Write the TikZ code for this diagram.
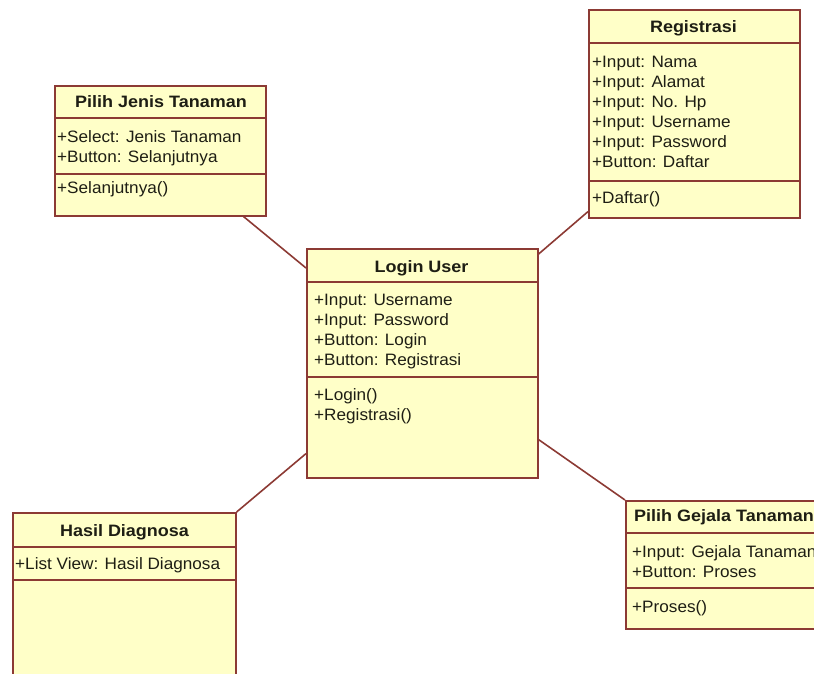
\documentclass[tikz,border=0pt]{standalone}
\usepackage{fontspec}
\setmainfont{Liberation Sans}
\newfontfamily\umlmember{Liberation Sans}[FakeStretch=1.04]
\newfontfamily\umltitle{Liberation Sans}[FakeStretch=1.09]
\definecolor{umlfill}{RGB}{255,255,200}
\definecolor{umlline}{RGB}{140,58,52}
\definecolor{umltext}{RGB}{30,30,20}
\begin{document}
\begin{tikzpicture}[x=1pt,y=-1pt,
  classbox/.style={draw=umlline, line width=1.6pt, fill=umlfill, rectangle, inner sep=0pt, anchor=north west},
  divider/.style={draw=umlline, line width=1.6pt},
  assoc/.style={draw=umlline, line width=1.6pt},
  classtitle/.style={font=\umltitle\fontsize{16.5}{20}\selectfont\bfseries, text=umltext, anchor=base, inner sep=0pt},
  member/.style={font=\umlmember\fontsize{16.5}{20}\selectfont, text=umltext, anchor=base west, inner sep=0pt}]
\useasboundingbox (0,0) rectangle (814,673);
\begin{scope}
\clip (0,0) rectangle (814,673);

% class boxes
\node[classbox, minimum width=211pt, minimum height=130pt] (pjt) at (54,85) {};
\node[classbox, minimum width=211pt, minimum height=208pt] (reg) at (588,9) {};
\node[classbox, minimum width=231pt, minimum height=229pt] (login) at (306,248) {};
\node[classbox, minimum width=223pt, minimum height=200pt] (hasil) at (12,512) {};
\node[classbox, minimum width=215pt, minimum height=128pt] (gejala) at (625,500) {};

% compartment dividers
\draw[divider] ([yshift=-33pt]pjt.north west) -- ([yshift=-33pt]pjt.north east);
\draw[divider] ([yshift=-89pt]pjt.north west) -- ([yshift=-89pt]pjt.north east);
\draw[divider] ([yshift=-34pt]reg.north west) -- ([yshift=-34pt]reg.north east);
\draw[divider] ([yshift=-172pt]reg.north west) -- ([yshift=-172pt]reg.north east);
\draw[divider] ([yshift=-34pt]login.north west) -- ([yshift=-34pt]login.north east);
\draw[divider] ([yshift=-129pt]login.north west) -- ([yshift=-129pt]login.north east);
\draw[divider] ([yshift=-35pt]hasil.north west) -- ([yshift=-35pt]hasil.north east);
\draw[divider] ([yshift=-68pt]hasil.north west) -- ([yshift=-68pt]hasil.north east);
\draw[divider] ([yshift=-33pt]gejala.north west) -- ([yshift=-33pt]gejala.north east);
\draw[divider] ([yshift=-88pt]gejala.north west) -- ([yshift=-88pt]gejala.north east);

% Pilih Jenis Tanaman
\node[classtitle] (pjt-t) at (161,107) {Pilih Jenis Tanaman};
\node[member] (pjt-a1) at (57,142.5) {+Select: Jenis Tanaman};
\node[member] (pjt-a2) at (57,162.5) {+Button: Selanjutnya};
\node[member] (pjt-m1) at (57,193.5) {+Selanjutnya()};

% Registrasi
\node[classtitle] (reg-t) at (693.5,32) {Registrasi};
\foreach \txt [count=\i] in {+Input: Nama, +Input: Alamat, +Input: No. Hp, +Input: Username, +Input: Password, +Button: Daftar}
  \node[member] (reg-a\i) at (592,{67.5+20*(\i-1)}) {\txt};
\node[member] (reg-m1) at (592,203.5) {+Daftar()};

% Login User
\node[classtitle] (login-t) at (421.5,272) {Login User};
\foreach \txt [count=\i] in {+Input: Username, +Input: Password, +Button: Login, +Button: Registrasi}
  \node[member] (login-a\i) at (314,{305.5+20*(\i-1)}) {\txt};
\node[member] (login-m1) at (314,400.5) {+Login()};
\node[member] (login-m2) at (314,420.5) {+Registrasi()};

% Hasil Diagnosa
\node[classtitle] (hasil-t) at (124.5,536) {Hasil Diagnosa};
\node[member] (hasil-a1) at (15,569.5) {+List View: Hasil Diagnosa};

% Pilih Gejala Tanaman
\node[classtitle, anchor=base west] (gejala-t) at (634,521) {Pilih Gejala Tanaman};
\node[member] (gejala-a1) at (632,557.5) {+Input: Gejala Tanaman};
\node[member] (gejala-a2) at (632,577) {+Button: Proses};
\node[member] (gejala-m1) at (632,612.5) {+Proses()};

% associations
\draw[assoc] ([xshift=-23pt]pjt.south east) -- ([yshift=-20pt]login.north west);
\draw[assoc] ([yshift=-6pt]login.north east) -- ([yshift=7pt]reg.south west);
\draw[assoc] ([yshift=25pt]login.south west) -- (hasil.north east);
\draw[assoc] ([yshift=39pt]login.south east) -- (gejala.north west);
\end{scope}
\end{tikzpicture}
\end{document}
